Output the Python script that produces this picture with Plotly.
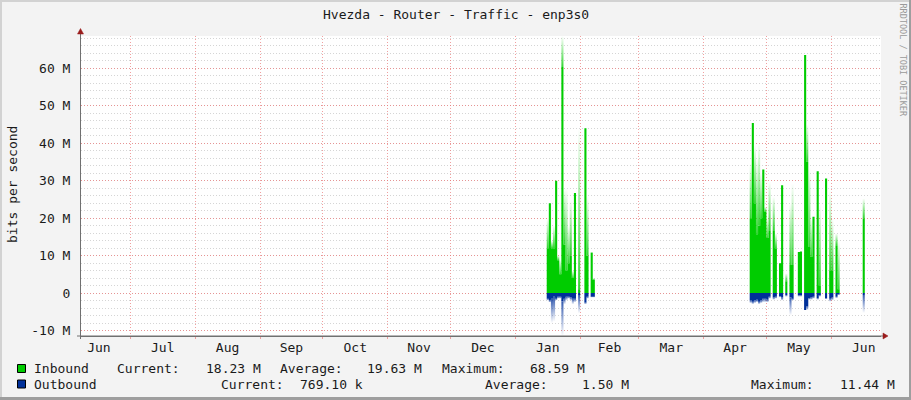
import plotly.graph_objects as go
import pandas as pd

# ---------------- data (values in M bits/s, daily) ----------------
jan_start = "2023-01-16"
jan_in_avg = [12, 24, 12, 12, 30, 8.8, 5, 60.3, 13, 6, 8, 10, 4, 26.7, 0, 1, 0, 0, 44, 10, 0, 10.7, 3.5]
jan_in_max = [20, 24, 14, 18, 30, 10, 9, 68.59, 28, 28, 18, 25, 6, 26.7, 0, 44, 0, 0, 44, 26, 0, 11, 4]
jan_out_avg = [1.5, 2, 1.5, 1, 1.5, 1, 1, 2.2, 1.5, 1, 1, 1.2, 1.5, 1.5, 0, 0.5, 0, 0, 2.5, 1, 0, 1, 1]
jan_out_max = [2, 2.5, 8, 7.6, 2, 1.5, 1.5, 11.44, 3, 2, 1.5, 2, 3, 2.5, 0, 5.4, 0, 0, 3, 1.5, 0, 1.2, 1.2]

apr_start = "2023-04-23"
apr_in_avg = [20, 45.4, 24, 15.7, 18, 20, 33, 21.7, 14.7, 16.8,
              0, 16.8, 12, 0, 8, 28.8, 0, 3, 0, 7.5,
              7.5, 0, 0, 11, 11.1, 0, 63.5, 35, 12.3, 9.7,
              20.4, 0, 32.5, 2, 0, 0, 30.6, 0, 6.1, 6,
              0, 12.8, 1]
apr_in_max = [34.6, 45.4, 39.5, 36, 40, 32, 33, 23, 20, 29.7,
              0, 25.7, 16, 0, 8, 28.8, 0, 5.3, 0, 24,
              29.3, 0, 0, 11, 11.1, 0, 63.5, 45, 33.7, 20,
              20.4, 0, 32.5, 24, 0, 0, 30.6, 0, 27.5, 20,
              0, 16, 14]
apr_out_avg = [2, 2.3, 2, 1.8, 2.3, 2, 1.5, 1.5, 1.8, 1,
               0, 1.2, 1, 0, 0.8, 1.2, 0, 0.5, 0, 1.2,
               1.5, 0, 0, 0.5, 0.5, 0, 4.5, 3.5, 1.3, 1.2,
               1, 0, 1.3, 0.5, 0, 0, 1.3, 0, 1.5, 1.2,
               0, 1, 0.3]
apr_out_max = [2.7, 3, 2.7, 2.5, 3, 2.7, 2.5, 2.5, 2.5, 1.5,
               0, 1.8, 1.5, 0, 1.2, 2, 0, 1, 0, 5.9,
               2, 0, 0, 1, 1, 0, 4.5, 4.5, 1.8, 1.8,
               1.5, 0, 1.8, 1, 0, 0, 1.7, 0, 2.3, 2,
               0, 1.3, 0.5]

jun_start = "2023-06-16"
jun_in_avg = [20]
jun_in_max = [25.3]
jun_out_avg = [0.5]
jun_out_max = [5.3]

periods = [
    (jan_start, jan_in_avg, jan_in_max, jan_out_avg, jan_out_max),
    (apr_start, apr_in_avg, apr_in_max, apr_out_avg, apr_out_max),
    (jun_start, jun_in_avg, jun_in_max, jun_out_avg, jun_out_max),
]

y_tickvals = [-10, 0, 10, 20, 30, 40, 50, 60]
y_ticktext = ["-10 M", "0", "10 M", "20 M", "30 M", "40 M", "50 M", "60 M"]

title_text = "Hvezda - Router - Traffic - enp3s0"
ytitle_text = "bits per second"
watermark = "RRDTOOL / TOBI OETIKER"
legend_rows = [
    ("Inbound", [("Current:", 116), ("18.23 M", 205), ("Average:", 279), ("19.63 M", 366),
                 ("Maximum:", 441), ("68.59 M", 529)]),
    ("Outbound", [("Current:", 220), ("769.10 k", 299), ("Average:", 484), ("1.50 M", 581),
                  ("Maximum:", 750), ("11.44 M", 839)]),
]

GREEN = "#00CC00"
BLUE = "#00309A"
IN_RGB = "0,204,0"
OUT_RGB = "0,48,154"

# ---------------- layout geometry ----------------
W, H = 911, 400
L, R, T, B = 81, 30, 36, 64
PW, PH = W - L - R, H - T - B


def px(x):
    return (x - L) / PW


def py(y):
    return (T + PH - y) / PH


fig = go.Figure()

# faded max parts (per-day gradient)
for start, in_avg, in_max, out_avg, out_max in periods:
    dates = pd.date_range(start, periods=len(in_avg) + 1, freq="D")
    for i in range(len(in_avg)):
        d0, d1 = dates[i], dates[i + 1]
        a, m = in_avg[i] * 1e6, in_max[i] * 1e6
        if m > a:
            fig.add_trace(go.Scatter(
                x=[d0, d0, d1, d1, d0], y=[a, m, m, a, a], mode="none", fill="toself",
                fillgradient=dict(type="vertical", start=a, stop=m,
                                  colorscale=[[0, f"rgba({IN_RGB},0.8)"], [1, f"rgba({IN_RGB},0.0)"]]),
                showlegend=False, hoverinfo="skip"))
        a, m = -out_avg[i] * 1e6, -out_max[i] * 1e6
        if m < a:
            fig.add_trace(go.Scatter(
                x=[d0, d0, d1, d1, d0], y=[a, m, m, a, a], mode="none", fill="toself",
                fillgradient=dict(type="vertical", start=m, stop=a,
                                  colorscale=[[0, f"rgba({OUT_RGB},0.0)"], [1, f"rgba({OUT_RGB},0.8)"]]),
                showlegend=False, hoverinfo="skip"))


def series(idx, sign):
    xs, ys = [], []
    for p in periods:
        start, vals = p[0], p[idx]
        dates = pd.date_range(start, periods=len(vals) + 1, freq="D")
        xs += list(dates)
        ys += [sign * v * 1e6 for v in vals] + [0]
    return xs, ys


x_in, y_in = series(1, 1)
x_out, y_out = series(3, -1)
fig.add_trace(go.Scatter(x=x_in, y=y_in, mode="lines", line=dict(shape="hv", width=0, color=GREEN),
                         fill="tozeroy", fillcolor=GREEN, name="Inbound", showlegend=False))
fig.add_trace(go.Scatter(x=x_out, y=y_out, mode="lines", line=dict(shape="hv", width=0, color=BLUE),
                         fill="tozeroy", fillcolor=BLUE, name="Outbound", showlegend=False))

MAJ = "rgba(235,120,120,0.7)"
MIN = "rgba(185,185,185,0.6)"
FONT = "DejaVu Sans Mono"

fig.update_layout(
    width=W, height=H, autosize=False,
    margin=dict(l=L, r=R, t=T, b=B, pad=0),
    paper_bgcolor="#F3F3F3", plot_bgcolor="#FFFFFF",
    font=dict(family=FONT, size=13, color="#1a1a1a"),
    showlegend=False,
    xaxis=dict(
        type="date", range=["2022-06-07 10:34", "2023-06-24 18:00"],
        dtick="M1", tick0="2022-07-01", tickformat="%b", ticklabelmode="period",
        showgrid=True, gridcolor=MAJ, griddash="1px,2px", gridwidth=1,
        showline=True, linecolor="#707070", linewidth=1,
        ticks="outside", ticklen=2, tickcolor=MAJ, ticklabelstandoff=-3,
        zeroline=False, fixedrange=True,
    ),
    yaxis=dict(
        range=[-11.44e6, 68.59e6],
        tickvals=[v * 1e6 for v in y_tickvals], ticktext=y_ticktext,
        showgrid=True, gridcolor=MAJ, griddash="1px,2px", gridwidth=1,
        minor=dict(dtick=2e6, tick0=0, showgrid=True, gridcolor=MIN, griddash="1px,2px", gridwidth=1),
        showline=True, linecolor="#707070", linewidth=1,
        ticks="outside", ticklen=7, tickcolor="rgba(0,0,0,0)",
        zeroline=False, fixedrange=True,
    ),
)

anns = []
anns.append(dict(text=title_text, x=px(455.5), y=py(14), xref="paper", yref="paper",
                 xanchor="center", yanchor="middle", showarrow=False, font=dict(size=13)))
anns.append(dict(text=ytitle_text, x=px(12), y=py(185), xref="paper", yref="paper",
                 xanchor="center", yanchor="middle", showarrow=False, textangle=-90, font=dict(size=13)))
anns.append(dict(text=watermark, x=px(902.5), y=py(60), xref="paper", yref="paper",
                 xanchor="center", yanchor="middle", showarrow=False, textangle=90,
                 font=dict(size=8.5, color="#9a9a9a")))
row_y = [368.5, 384]
for (name, items), yy in zip(legend_rows, row_y):
    anns.append(dict(text=name, x=px(32), y=py(yy), xref="paper", yref="paper",
                     xanchor="left", yanchor="middle", showarrow=False, font=dict(size=13)))
    for txt, xx in items:
        anns.append(dict(text=txt.replace(" ", "&nbsp;"), x=px(xx - 1), y=py(yy), xref="paper", yref="paper",
                         xanchor="left", yanchor="middle", showarrow=False, font=dict(size=13)))
fig.update_layout(annotations=anns)

shapes = []
# legend swatches
for yy, col in zip(row_y, [GREEN, BLUE]):
    shapes.append(dict(type="rect", xref="paper", yref="paper",
                       x0=px(17.5), x1=px(25.5), y0=py(yy + 4), y1=py(yy - 4),
                       fillcolor=col, line=dict(color="#000000", width=1)))
# axis extensions and arrows
AR = "#9a1c1c"
shapes.append(dict(type="line", xref="paper", yref="paper", x0=px(77), x1=px(884), y0=py(336), y1=py(336),
                   line=dict(color="#707070", width=1)))
shapes.append(dict(type="line", xref="paper", yref="paper", x0=px(80.5), x1=px(80.5), y0=py(339), y1=py(32),
                   line=dict(color="#707070", width=1)))
shapes.append(dict(type="path", xref="paper", yref="paper",
                   path=f"M {px(77.5)},{py(34)} L {px(83.5)},{py(34)} L {px(80.5)},{py(28.5)} Z",
                   fillcolor=AR, line=dict(color=AR, width=0.5)))
shapes.append(dict(type="path", xref="paper", yref="paper",
                   path=f"M {px(883)},{py(333)} L {px(883)},{py(339)} L {px(888)},{py(336)} Z",
                   fillcolor=AR, line=dict(color=AR, width=0.5)))
# 3D frame
shapes.append(dict(type="rect", xref="paper", yref="paper", x0=px(0), x1=px(2), y0=py(400), y1=py(0),
                   fillcolor="#d2d2d2", line=dict(width=0), layer="below"))
shapes.append(dict(type="rect", xref="paper", yref="paper", x0=px(0), x1=px(911), y0=py(2), y1=py(0),
                   fillcolor="#d2d2d2", line=dict(width=0), layer="below"))
shapes.append(dict(type="rect", xref="paper", yref="paper", x0=px(909), x1=px(911), y0=py(400), y1=py(0),
                   fillcolor="#9e9e9e", line=dict(width=0)))
shapes.append(dict(type="rect", xref="paper", yref="paper", x0=px(0), x1=px(911), y0=py(400), y1=py(397),
                   fillcolor="#9e9e9e", line=dict(width=0)))
fig.update_layout(shapes=shapes)

fig.write_html("out.html", config={"displayModeBar": False},
               post_script="document.body.style.margin='0';document.body.style.overflow='hidden';")
